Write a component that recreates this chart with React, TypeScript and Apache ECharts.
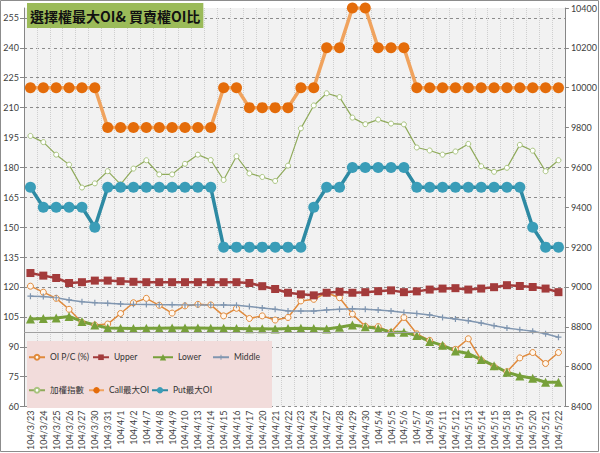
import React, { useEffect, useRef } from "react";
import * as echarts from "echarts";

const categories = [
  "104/3/23", "104/3/24", "104/3/25", "104/3/26", "104/3/27", "104/3/30", "104/3/31",
  "104/4/1", "104/4/2", "104/4/7", "104/4/8", "104/4/9", "104/4/10", "104/4/13",
  "104/4/14", "104/4/15", "104/4/16", "104/4/17", "104/4/20", "104/4/21", "104/4/22",
  "104/4/23", "104/4/24", "104/4/27", "104/4/28", "104/4/29", "104/4/30", "104/5/4",
  "104/5/5", "104/5/6", "104/5/7", "104/5/8", "104/5/11", "104/5/12", "104/5/13",
  "104/5/14", "104/5/15", "104/5/18", "104/5/19", "104/5/20", "104/5/21", "104/5/22",
];

const oiPC = [120.4, 117.4, 114.3, 108.8, 102.2, 100.9, 101.4, 106.7, 112.1, 114.3, 110.8, 106.9, 110.5, 111.3, 111, 105.5, 109.3, 104.2, 105.5, 103.4, 104.7, 113, 113.8, 117.1, 114.6, 106.4, 100.3, 100.1, 97.3, 104.7, 96.5, 93.2, 90.4, 88.7, 94, 83.3, 80, 77.5, 84.4, 87.1, 81.6, 87.1];
const upper = [127, 125.7, 124.5, 122, 122.4, 123.2, 123.2, 122.9, 122.6, 122.4, 122.4, 122.4, 122.4, 122.4, 122.4, 122.4, 122.4, 122, 120.4, 119, 117.1, 116.3, 115.8, 117.1, 117.6, 117.1, 117.4, 117.9, 118.3, 117.4, 117.8, 118.7, 119.2, 119.4, 118.7, 119.2, 119.9, 120.9, 120.5, 120, 119.2, 117.4];
const lower = [103.9, 104.2, 104.4, 105.2, 102.7, 100.9, 99.4, 99.3, 99.2, 99.3, 99.3, 99.4, 99.4, 99.4, 99.3, 99.3, 99.2, 99, 99, 98.9, 99.2, 99.3, 99.2, 98.9, 99.8, 100.9, 100, 99.2, 97.3, 97.3, 95.6, 92.7, 90.7, 87.9, 86.6, 83.6, 80.5, 77.2, 75.3, 74.2, 72.2, 72.2];
const middle = [115.4, 115.2, 114.6, 113.5, 112.6, 112.1, 111.8, 111.5, 111.3, 111.2, 111.1, 111.1, 111, 111, 111, 111, 110.8, 110.2, 109.5, 108.8, 108, 107.9, 107.9, 108.5, 108.8, 109.1, 108.8, 108.5, 108, 107.2, 106.7, 106, 104.7, 103.9, 103.1, 101.9, 100.6, 99.4, 98.6, 97.8, 96.5, 94.8];
const taiex = [9758, 9727, 9664, 9614, 9499, 9520, 9581, 9515, 9594, 9636, 9565, 9565, 9618, 9664, 9637, 9537, 9656, 9570, 9552, 9532, 9609, 9796, 9911, 9972, 9953, 9850, 9817, 9840, 9820, 9816, 9700, 9685, 9664, 9680, 9718, 9606, 9578, 9598, 9713, 9684, 9581, 9636];
const callMaxOI = [10000, 10000, 10000, 10000, 10000, 10000, 9800, 9800, 9800, 9800, 9800, 9800, 9800, 9800, 9800, 10000, 10000, 9900, 9900, 9900, 9900, 10000, 10000, 10200, 10200, 10400, 10400, 10200, 10200, 10200, 10000, 10000, 10000, 10000, 10000, 10000, 10000, 10000, 10000, 10000, 10000, 10000];
const putMaxOI = [9500, 9400, 9400, 9400, 9400, 9300, 9500, 9500, 9500, 9500, 9500, 9500, 9500, 9500, 9500, 9200, 9200, 9200, 9200, 9200, 9200, 9200, 9400, 9500, 9500, 9600, 9600, 9600, 9600, 9600, 9500, 9500, 9500, 9500, 9500, 9500, 9500, 9500, 9500, 9300, 9200, 9200];

const seriesNames = ["OI P/C (%)", "Upper", "Lower", "Middle", "加權指數", "Call最大OI", "Put最大OI"];
const baseLineValue = 97.4;

const FONT = "Lato, 'Noto Sans CJK TC', sans-serif";

export default function App() {
  const ref = useRef<HTMLDivElement>(null);
  useEffect(() => {
    if (!ref.current) return;
    const chart = echarts.init(ref.current, undefined, { renderer: "svg" });
    const legendPos = [
      { left: 28, top: 353, w: 16, h: 6 },
      { left: 92, top: 353, w: 16, h: 7 },
      { left: 152, top: 353, w: 20, h: 8 },
      { left: 212, top: 353, w: 16, h: 6 },
      { left: 28, top: 386, w: 16, h: 6 },
      { left: 88, top: 386, w: 15, h: 8 },
      { left: 151, top: 386, w: 16, h: 8 },
    ];
    const plus = "path://M4,0h2v4h4v2h-4v4h-2v-4h-4v-2h4z";
    chart.setOption({
      animation: false,
      textStyle: { fontFamily: FONT },
      title: {
        text: "選擇權最大OI& 買賣權OI比",
        left: 27,
        top: 3,
        backgroundColor: "#9bbb59",
        padding: [6, 3, 5, 3],
        textStyle: { fontSize: 14, fontWeight: "bold", color: "#111", fontFamily: "'Noto Sans CJK TC', sans-serif" },
      },
      grid: { left: 24, right: 34, top: 8, bottom: 41, show: true, backgroundColor: "#f2f2f2", borderWidth: 0 },
      legend: seriesNames.map((n, i) => ({
        data: [n],
        left: legendPos[i].left,
        top: legendPos[i].top,
        padding: 0,
        itemWidth: legendPos[i].w,
        itemHeight: legendPos[i].h,
        textStyle: { fontSize: 8.5, color: "#333", fontFamily: FONT },
      })),
      graphic: {
        elements: [
          { type: "rect", shape: { x: 27, y: 341, width: 245, height: 67 }, style: { fill: "#f2dcdb" }, z: 1 },
          { type: "rect", shape: { x: 0.5, y: 0.5, width: 598, height: 451 }, style: { fill: "none", stroke: "#8c8c8c", lineWidth: 1 }, z: 100 },
        ],
      },
      xAxis: {
        type: "category",
        data: categories,
        boundaryGap: true,
        axisLine: { show: false },
        axisTick: { show: false },
        axisLabel: { rotate: 90, interval: 0, fontSize: 9, color: "#404040", margin: 4 },
        splitLine: { show: true, interval: 0, lineStyle: { color: "#cfcfcf", type: "dotted" } },
      },
      yAxis: [
        {
          type: "value",
          min: 60,
          max: 260,
          interval: 15,
          position: "left",
          axisLine: { show: true, lineStyle: { color: "#868686" } },
          axisTick: { show: true, length: 4, lineStyle: { color: "#868686" } },
          axisLabel: { fontSize: 9, color: "#404040", showMaxLabel: false, margin: 5 },
          splitLine: { show: true, showMaxLine: false, lineStyle: { color: "#8c8c8c", type: [3, 3] } },
        },
        {
          type: "value",
          min: 8400,
          max: 10400,
          interval: 200,
          position: "right",
          axisLine: { show: true, lineStyle: { color: "#868686" } },
          axisTick: { show: true, length: 4, lineStyle: { color: "#868686" } },
          axisLabel: { fontSize: 9, color: "#404040", margin: 6, formatter: (v: number) => String(v) },
          splitLine: { show: false },
        },
      ],
      series: [
        {
          name: seriesNames[0], type: "line", data: oiPC, yAxisIndex: 0,
          symbol: "circle", symbolSize: 6,
          lineStyle: { color: "#e08a3c", width: 1.5 },
          itemStyle: { color: "#fff7ee", borderColor: "#e08a3c", borderWidth: 1 },
        },
        {
          name: seriesNames[1], type: "line", data: upper, yAxisIndex: 0,
          symbol: "rect", symbolSize: 8,
          lineStyle: { color: "#a33b3b", width: 2.5 },
          itemStyle: { color: "#a33b3b" },
        },
        {
          name: seriesNames[2], type: "line", data: lower, yAxisIndex: 0,
          symbol: "triangle", symbolSize: 9,
          lineStyle: { color: "#77a03a", width: 3 },
          itemStyle: { color: "#77a03a" },
        },
        {
          name: seriesNames[3], type: "line", data: middle, yAxisIndex: 0,
          symbol: plus, symbolSize: 6,
          lineStyle: { color: "#8096b0", width: 1.5 },
          itemStyle: { color: "#8096b0" },
          markLine: {
            silent: true, symbol: "none", label: { show: false },
            lineStyle: { color: "#a0a0a0", type: "solid", width: 1 },
            data: [{ yAxis: baseLineValue }],
          },
        },
        {
          name: seriesNames[4], type: "line", data: taiex, yAxisIndex: 1,
          symbol: "circle", symbolSize: 5,
          lineStyle: { color: "#8faa5a", width: 1.2 },
          itemStyle: { color: "#ffffff", borderColor: "#a9c47f", borderWidth: 1 },
        },
        {
          name: seriesNames[5], type: "line", data: callMaxOI, yAxisIndex: 1,
          symbol: "circle", symbolSize: 11,
          lineStyle: { color: "#f0a35e", width: 3.5 },
          itemStyle: { color: "#e46c0a" },
        },
        {
          name: seriesNames[6], type: "line", data: putMaxOI, yAxisIndex: 1,
          symbol: "circle", symbolSize: 11,
          lineStyle: { color: "#2e8aa3", width: 3.5 },
          itemStyle: { color: "#3a9db8" },
        },
      ],
    });
    return () => chart.dispose();
  }, []);
  return <div ref={ref} style={{ position: "absolute", left: 0, top: 0, width: 600, height: 453, background: "#fff" }} />;
}
